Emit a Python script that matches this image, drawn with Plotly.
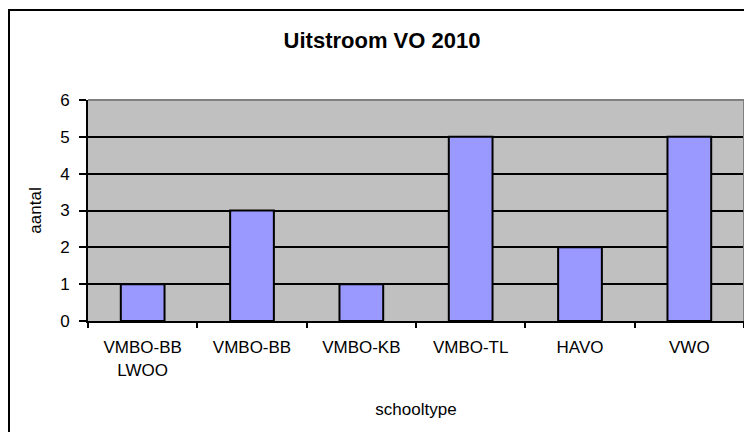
import plotly.graph_objects as go

categories = ["VMBO-BB<br>LWOO", "VMBO-BB", "VMBO-KB", "VMBO-TL", "HAVO", "VWO"]
values = [1, 3, 1, 5, 2, 5]
y_ticks = [0, 1, 2, 3, 4, 5, 6]
title_text = "Uitstroom VO 2010"
x_title = "schooltype"
y_title = "aantal"

# the page body has an 8px default margin, so the figure is drawn 8px in
OFF = 8
W, H = 752 - OFF, 432 - OFF
ML, MR, MT, MB = 88 - OFF, 8, 100 - OFF, 111
pw, ph = W - ML - MR, H - MT - MB

def px_to_paper_x(px):
    return (px - OFF - ML) / pw

def px_to_paper_y(py):
    return (H - MB - (py - OFF)) / ph

FONT = "Liberation Sans, Arial, sans-serif"

fig = go.Figure(go.Bar(
    x=categories, y=values,
    marker=dict(color="#9999FF", line=dict(color="black", width=2)),
))

fig.update_layout(
    width=W, height=H,
    margin=dict(l=ML, r=MR, t=MT, b=MB, autoexpand=False),
    paper_bgcolor="white",
    plot_bgcolor="#C0C0C0",
    bargap=0.6,
    showlegend=False,
    font=dict(family=FONT, size=17, color="black"),
    title=dict(text="<b>" + title_text + "</b>", x=(382 - OFF) / W, xanchor="center",
               y=1 - (40 - OFF) / H, yanchor="middle",
               font=dict(family=FONT, size=22, color="black")),
    xaxis=dict(
        type="category", range=[-0.5, len(categories) - 0.5], automargin=False,
        tickson="boundaries", ticks="outside", ticklen=5, tickwidth=2, tickcolor="black",
        showline=True, linecolor="black", linewidth=2, showgrid=False,
        tickfont=dict(family=FONT, size=17), ticklabelstandoff=10,
        title=dict(text=x_title, standoff=25, font=dict(family=FONT, size=17)),
    ),
    yaxis=dict(
        range=[0, 6], tickvals=y_ticks, ticks="outside", ticklen=7, tickwidth=2, tickcolor="black",
        showline=True, linecolor="black", linewidth=2, automargin=False,
        showgrid=True, gridcolor="black", gridwidth=2, zeroline=False,
        tickfont=dict(family=FONT, size=17), ticklabelstandoff=6,
        title=dict(text=y_title, standoff=14, font=dict(family=FONT, size=17)),
    ),
    shapes=[
        # outer chart border (extends past the bottom/right of the view)
        dict(type="rect", xref="paper", yref="paper",
             x0=px_to_paper_x(9), x1=px_to_paper_x(780),
             y0=px_to_paper_y(460), y1=px_to_paper_y(10),
             line=dict(color="black", width=2), layer="below"),
        # gray top/right plot border
        dict(type="line", xref="paper", yref="paper", x0=0, x1=1, y0=1, y1=1,
             line=dict(color="#808080", width=2), layer="above"),
        dict(type="line", xref="paper", yref="paper", x0=1, x1=1, y0=0, y1=1,
             line=dict(color="#808080", width=2), layer="above"),
    ],
)

fig.write_html("out.html")
